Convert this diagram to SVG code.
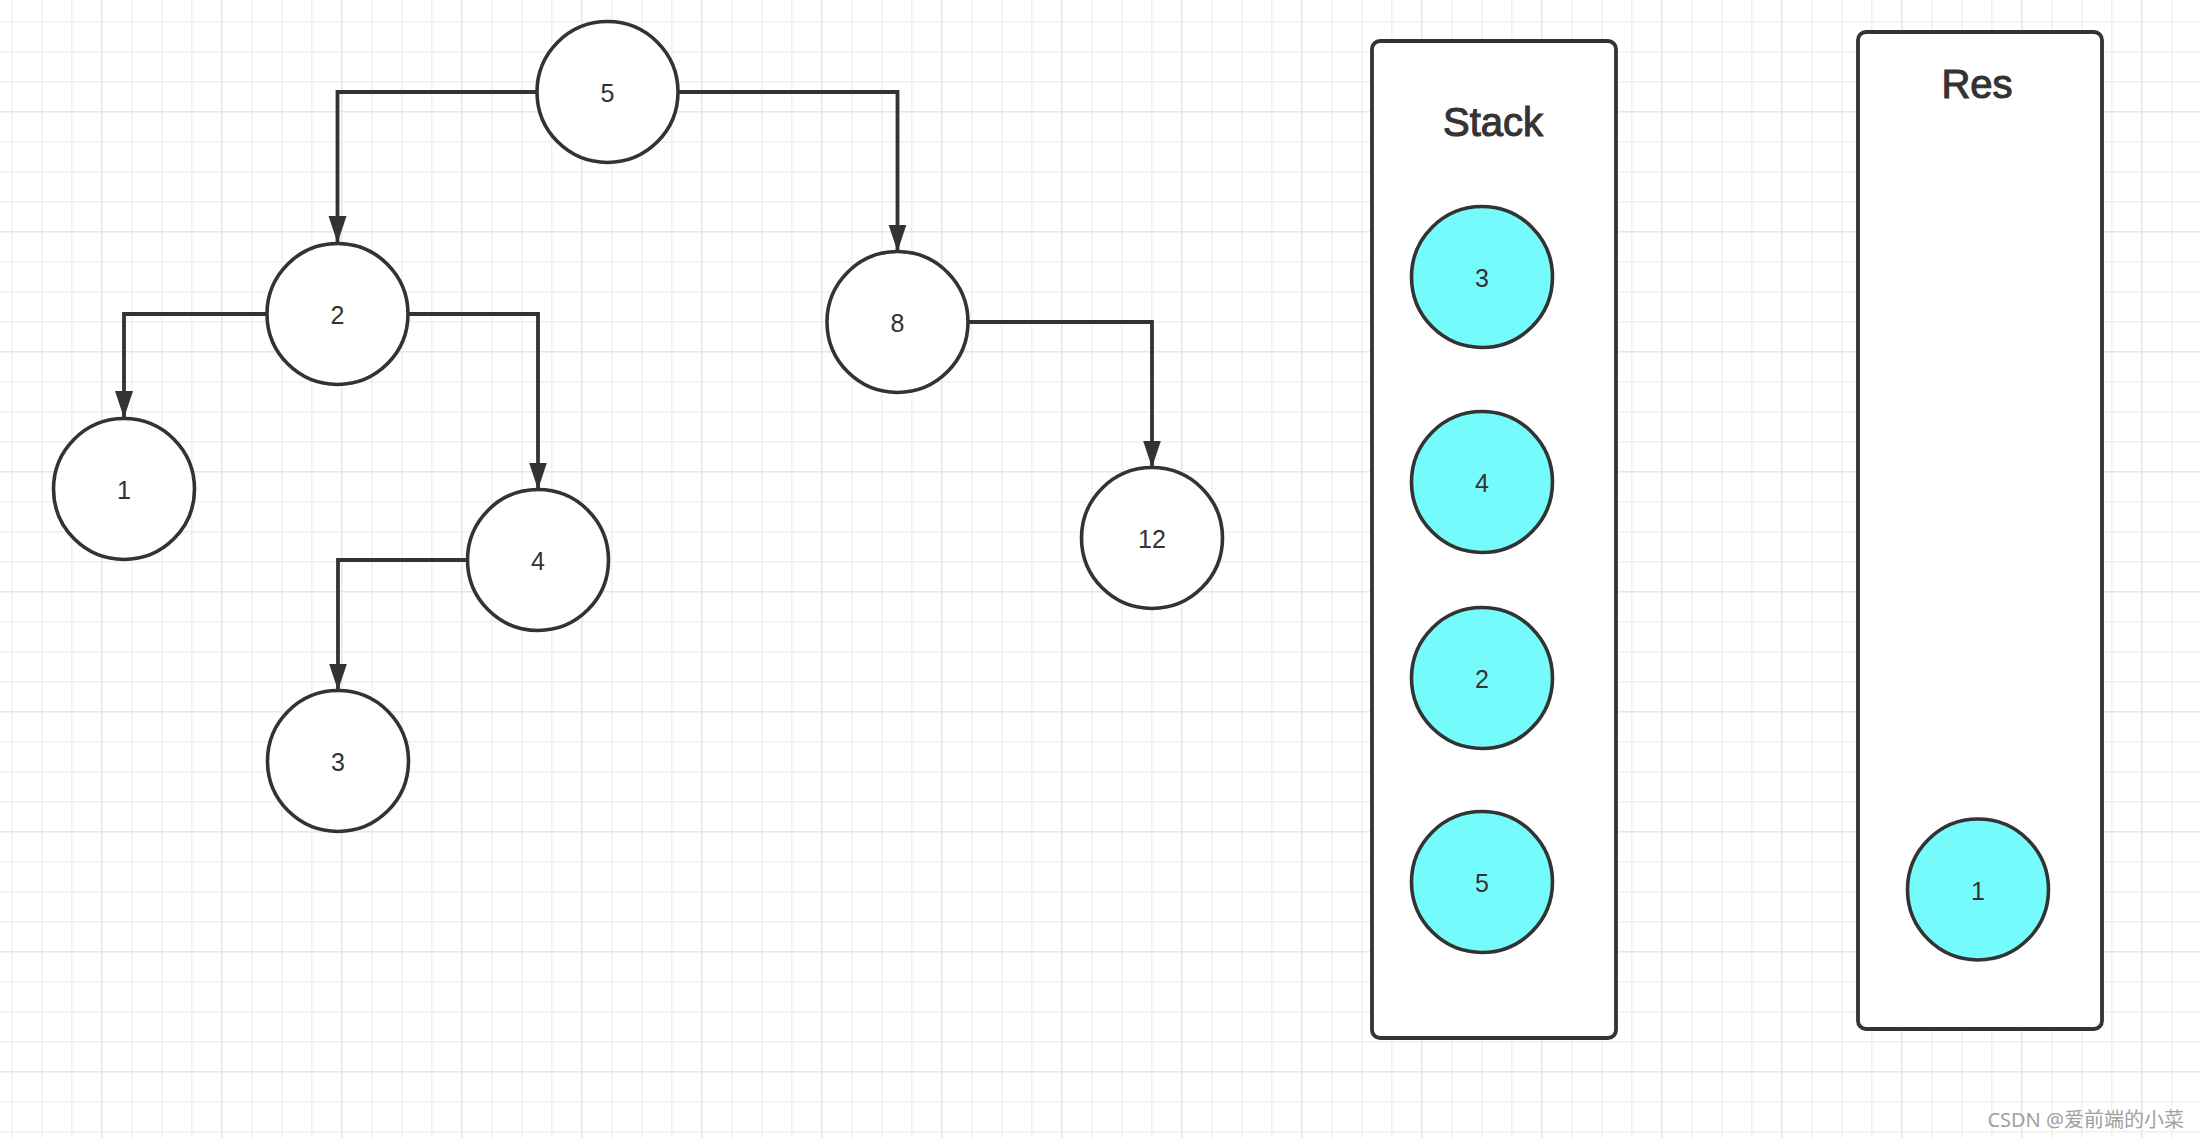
<svg xmlns="http://www.w3.org/2000/svg" width="2200" height="1138" viewBox="0 0 2200 1138">
  <defs>
    <pattern id="grid" x="101" y="111" width="120" height="120" patternUnits="userSpaceOnUse">
      <rect x="30" y="0" width="1.5" height="120" fill="#f0f0f0"/>
      <rect x="60" y="0" width="1.5" height="120" fill="#f0f0f0"/>
      <rect x="90" y="0" width="1.5" height="120" fill="#f0f0f0"/>
      <rect x="0" y="30" width="120" height="1.5" fill="#f0f0f0"/>
      <rect x="0" y="60" width="120" height="1.5" fill="#f0f0f0"/>
      <rect x="0" y="90" width="120" height="1.5" fill="#f0f0f0"/>
      <rect x="0" y="0" width="1.5" height="120" fill="#e6e6e6"/>
      <rect x="0" y="0" width="120" height="1.5" fill="#e6e6e6"/>
    </pattern>
    <marker id="arrow" markerUnits="userSpaceOnUse" markerWidth="28" markerHeight="20" refX="27" refY="9" orient="auto">
      <path d="M0,0 L27,9 L0,18 Z" fill="#333"/>
    </marker>
    <style>
      .node circle { fill: #ffffff; stroke: #333333; stroke-width: 3.6; }
      .node.cyan circle { fill: #76fbfc; }
      .node text { font-family: "Liberation Sans", Arial, sans-serif; font-size: 25px; fill: #333333; text-anchor: middle; }
      .conn path { fill: none; stroke: #333333; stroke-width: 3.8; marker-end: url(#arrow); }
      .box rect { fill: #ffffff; stroke: #333333; stroke-width: 3.8; }
      .box text { font-family: "Liberation Sans", Arial, sans-serif; font-size: 40px; fill: #333333; stroke: #333333; stroke-width: 1.1; text-anchor: middle; }
      .wm { font-family: "Noto Sans", "Noto Sans CJK SC", sans-serif; font-size: 20px; fill: #a0a0a0; text-anchor: end; }
    </style>
  </defs>

  <rect x="0" y="0" width="2200" height="1138" fill="#ffffff"/>
  <rect x="0" y="0" width="2200" height="1138" fill="url(#grid)"/>

  <g id="connectors" class="conn">
    <path d="M537,92 H337.5 V243"/>
    <path d="M678,92 H897.5 V251.5"/>
    <path d="M267,314 H124 V418"/>
    <path d="M408,314 H538 V489.5"/>
    <path d="M467,560 H338 V690.5"/>
    <path d="M968,322 H1152 V467.5"/>
  </g>

  <g id="tree-5" class="node"><circle cx="607.5" cy="92" r="70.5"/><text x="607.5" y="102">5</text></g>
  <g id="tree-2" class="node"><circle cx="337.5" cy="314" r="70.5"/><text x="337.5" y="324">2</text></g>
  <g id="tree-8" class="node"><circle cx="897.5" cy="322" r="70.5"/><text x="897.5" y="332">8</text></g>
  <g id="tree-1" class="node"><circle cx="124" cy="489" r="70.5"/><text x="124" y="499">1</text></g>
  <g id="tree-4" class="node"><circle cx="538" cy="560" r="70.5"/><text x="538" y="570">4</text></g>
  <g id="tree-12" class="node"><circle cx="1152" cy="538" r="70.5"/><text x="1152" y="548">12</text></g>
  <g id="tree-3" class="node"><circle cx="338" cy="761" r="70.5"/><text x="338" y="771">3</text></g>

  <g id="stack" class="box">
    <rect x="1372" y="41" width="244" height="997" rx="8" ry="8"/>
    <text x="1493" y="136">Stack</text>
  </g>
  <g id="stack-3" class="node cyan"><circle cx="1482" cy="277" r="70.5"/><text x="1482" y="287">3</text></g>
  <g id="stack-4" class="node cyan"><circle cx="1482" cy="482" r="70.5"/><text x="1482" y="492">4</text></g>
  <g id="stack-2" class="node cyan"><circle cx="1482" cy="678" r="70.5"/><text x="1482" y="688">2</text></g>
  <g id="stack-5" class="node cyan"><circle cx="1482" cy="882" r="70.5"/><text x="1482" y="892">5</text></g>

  <g id="res" class="box">
    <rect x="1858" y="32" width="244" height="997" rx="8" ry="8"/>
    <text x="1977" y="98">Res</text>
  </g>
  <g id="res-1" class="node cyan"><circle cx="1978" cy="889.5" r="70.5"/><text x="1978" y="899.5">1</text></g>

  <text class="wm" x="2184" y="1127">CSDN @爱前端的小菜</text>
</svg>
